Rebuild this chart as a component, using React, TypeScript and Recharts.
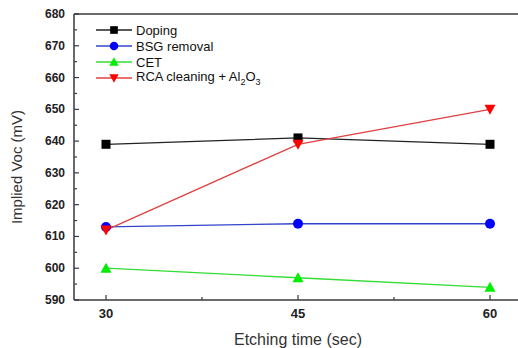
import React from "react";
import {
  LineChart, Line, XAxis, YAxis, Legend, Label, ReferenceLine,
} from "recharts";

const etchTimes = [30, 45, 60];
const doping = [639, 641, 639];
const bsgRemoval = [613, 614, 614];
const cet = [600, 597, 594];
const rcaCleaning = [612, 639, 650];

const xTicks = [30, 37.5, 45, 52.5, 60];
const yTicks = [590, 595, 600, 605, 610, 615, 620, 625, 630, 635, 640, 645, 650, 655, 660, 665, 670, 675, 680];

const data = etchTimes.map((t, i) => ({
  t,
  doping: doping[i],
  bsg: bsgRemoval[i],
  cet: cet[i],
  rca: rcaCleaning[i],
}));

const FONT = "'Liberation Sans', Arial, sans-serif";
const AXIS = "#3a3a3a";

type Shape = "square" | "circle" | "up" | "down";

const series: { key: string; name: React.ReactNode; color: string; line: string; shape: Shape }[] = [
  { key: "doping", name: "Doping", color: "#000000", line: "#222222", shape: "square" },
  { key: "bsg", name: "BSG removal", color: "#0000ff", line: "#3344cc", shape: "circle" },
  { key: "cet", name: "CET", color: "#00ee00", line: "#33dd33", shape: "up" },
  {
    key: "rca",
    name: (
      <>
        RCA cleaning + Al<sub style={{ fontSize: 9 }}>2</sub>O<sub style={{ fontSize: 9 }}>3</sub>
      </>
    ),
    color: "#ff0000",
    line: "#e04040",
    shape: "down",
  },
];

function marker(shape: Shape, cx: number, cy: number, color: string, s = 1) {
  if (shape === "square") {
    const h = 4.5 * s;
    return <rect x={cx - h} y={cy - h} width={h * 2} height={h * 2} fill={color} />;
  }
  if (shape === "circle") return <circle cx={cx} cy={cy} r={5 * s} fill={color} />;
  if (shape === "up") {
    const w = 5.5 * s;
    return <polygon points={`${cx - w},${cy + 4.5 * s} ${cx + w},${cy + 4.5 * s} ${cx},${cy - 5.5 * s}`} fill={color} />;
  }
  const w = 5.5 * s;
  return <polygon points={`${cx - w},${cy - 4.5 * s} ${cx + w},${cy - 4.5 * s} ${cx},${cy + 5.5 * s}`} fill={color} />;
}

const makeDot = (shape: Shape, color: string) => (p: any) => (
  <g key={`${shape}-${p.index}`}>{marker(shape, p.cx, p.cy, color)}</g>
);

const XTick = (p: any) => {
  const v = p.payload.value;
  const major = [30, 45, 60].includes(v);
  return (
    <g>
      <line x1={p.x} x2={p.x} y1={p.y} y2={p.y - (major ? 5 : 3)} stroke={AXIS} strokeWidth={1.2} />
      {major && (
        <text x={p.x} y={p.y + 18} textAnchor="middle" fontSize={13} fontWeight="bold" fill="#222" fontFamily={FONT}>
          {v}
        </text>
      )}
    </g>
  );
};

const YTick = (p: any) => {
  const v = p.payload.value;
  const major = v % 10 === 0;
  return (
    <g>
      <line x1={p.x} x2={p.x + (major ? 5 : 3)} y1={p.y} y2={p.y} stroke={AXIS} strokeWidth={1.2} />
      {major && (
        <text x={p.x - 9} y={p.y + 4} textAnchor="end" fontSize={12} fontWeight="bold" fill="#222" fontFamily={FONT}>
          {v}
        </text>
      )}
    </g>
  );
};

const LegendBox = () => (
  <div style={{ fontFamily: FONT, fontSize: 13, color: "#111" }}>
    {series.map((s) => (
      <div key={s.key} style={{ display: "flex", alignItems: "center", height: 16 }}>
        <svg width={38} height={16} style={{ marginRight: 2 }}>
          <line x1={0} x2={36} y1={8} y2={8} stroke={s.line} strokeWidth={1.3} />
          {marker(s.shape, 18, 8, s.color, 0.85)}
        </svg>
        <span style={{ whiteSpace: "nowrap" }}>{s.name}</span>
      </div>
    ))}
  </div>
);

export default function App() {
  return (
    <div style={{ width: 518, height: 348, overflow: "hidden", position: "relative" }}>
      <style>{`body{margin:0;background:#fff}`}</style>
      <LineChart width={530} height={348} data={data} margin={{ top: 14, right: 8, bottom: 0, left: 0 }}>
        <XAxis
          dataKey="t"
          type="number"
          domain={[27.5, 62.5]}
          ticks={xTicks}
          interval={0}
          tickSize={0}
          tickMargin={0}
          tick={<XTick />}
          height={48}
          stroke={AXIS}
          strokeWidth={1.5}
        >
          <Label
            content={() => (
              <text x={298} y={345} textAnchor="middle" fontSize={16} fill="#333" fontFamily={FONT}>
                Etching time (sec)
              </text>
            )}
          />
        </XAxis>
        <YAxis
          type="number"
          domain={[590, 680]}
          ticks={yTicks}
          interval={0}
          tickSize={0}
          tickMargin={0}
          tick={<YTick />}
          width={74}
          stroke={AXIS}
          strokeWidth={1.5}
        >
          <Label
            content={() => (
              <text x={22} y={167} transform="rotate(-90 22 167)" textAnchor="middle" fontSize={15} fill="#333" fontFamily={FONT}>
                Implied Voc (mV)
              </text>
            )}
          />
        </YAxis>
        <ReferenceLine y={680} stroke={AXIS} strokeWidth={1.5} />
        <Legend
          layout="horizontal"
          verticalAlign="middle"
          align="center"
          content={<LegendBox />}
          wrapperStyle={{ left: 96, top: 22, width: "auto" }}
        />
        {series.map((s) => (
          <Line
            key={s.key}
            dataKey={s.key}
            stroke={s.line}
            strokeWidth={1.3}
            dot={makeDot(s.shape, s.color)}
            isAnimationActive={false}
            legendType="none"
          />
        ))}
      </LineChart>
    </div>
  );
}
